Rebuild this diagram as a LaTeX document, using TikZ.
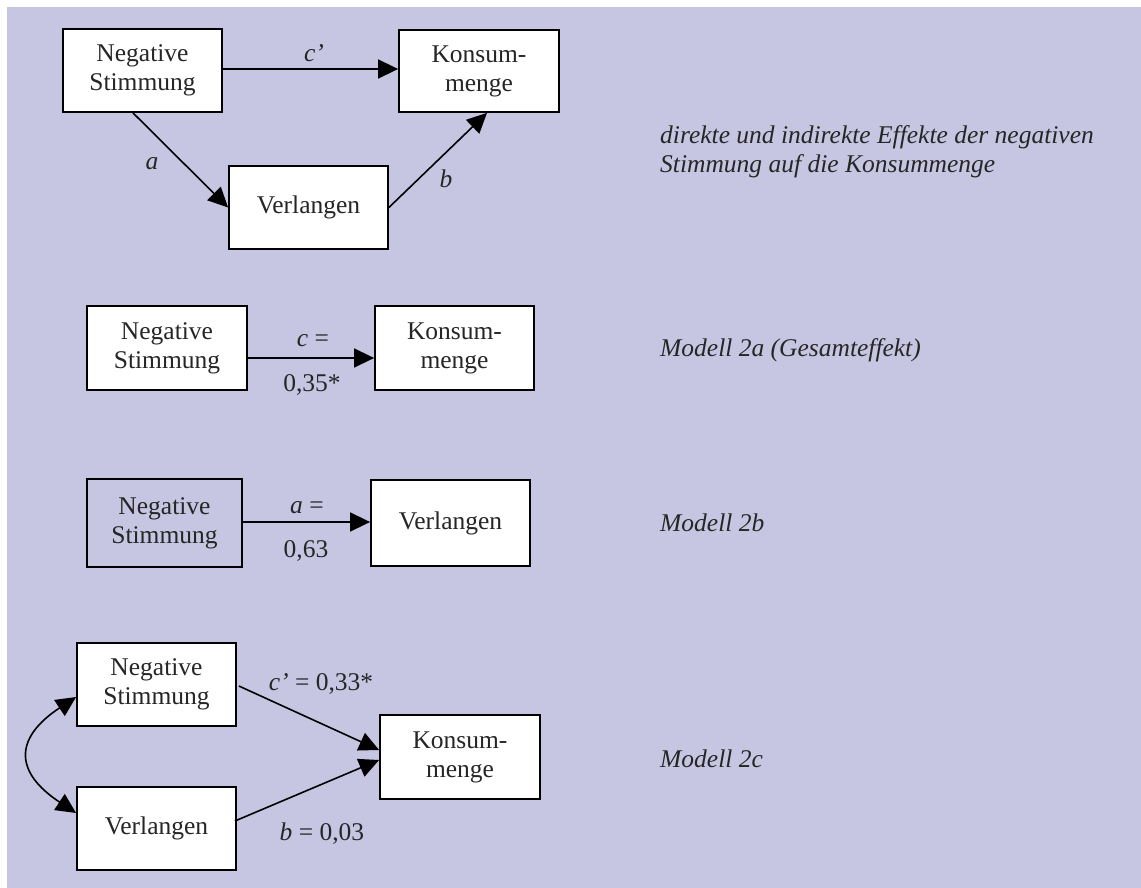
\documentclass[tikz,border=0pt]{standalone}
\usepackage{fontspec}
\setmainfont{Liberation Serif}
\usetikzlibrary{arrows.meta,calc}
\definecolor{lav}{RGB}{198,198,226}
\begin{document}
\begin{tikzpicture}[x=1pt,y=-1pt,
  box/.style={draw=black,line width=1.8pt,fill=white,inner sep=0pt,align=center,
    font=\fontsize{25.5}{29}\selectfont,text=black!85},
  conn/.style={line width=1.6pt,-{Triangle[length=20pt,width=19pt]}},
  lbl/.style={anchor=base,font=\fontsize{25.5}{29}\selectfont,text=black!85,inner sep=0pt},
  note/.style={anchor=base west,font=\fontsize{25.5}{29}\selectfont\itshape,text=black!85,inner sep=0pt}]
\useasboundingbox (0,0) rectangle (1141,888);
\fill[white] (0,0) rectangle (1141,888);
\fill[lav] (7,7) rectangle (1141,888);

% Model 1
\node[box,minimum width=159pt,minimum height=83pt] (ns1) at (142.5,70.5) {Negative\\Stimmung};
\node[box,minimum width=160pt,minimum height=82pt] (km1) at (479,71) {Konsum-\\menge};
\node[box,minimum width=159pt,minimum height=83pt] (v1) at (308.5,207.5) {Verlangen};
\draw[conn] ([yshift=1.5pt]ns1.east) -- ([yshift=1.5pt]ns1.east -| km1.west);
\draw[conn] ([xshift=-9.5pt]ns1.south) -- (v1.west);
\draw[conn] (v1.east) -- ([xshift=8pt]km1.south);
\node[lbl] (lc1) at (314,62) {\textit{c’}};
\node[lbl] (la1) at (152,170) {\textit{a}};
\node[lbl] (lb1) at (446,188) {\textit{b}};
\node[note] (t1) at (660,144) {direkte und indirekte Effekte der negativen};
\node[note] (t1b) at (660,173) {Stimmung auf die Konsummenge};

% Model 2a
\node[box,minimum width=160pt,minimum height=84pt] (ns2a) at (167,348) {Negative\\Stimmung};
\node[box,minimum width=159pt,minimum height=84pt] (km2a) at (454.5,348) {Konsum-\\menge};
\draw[conn] ([yshift=-10pt]ns2a.east) -- ([yshift=-10pt]ns2a.east -| km2a.west);
\node[lbl] (lc2a) at (313,346) {\textit{c} =};
\node[lbl] (lv2a) at (312,391) {0,35*};
\node[note] (t2a) at (660,356) {Modell 2a (Gesamteffekt)};

% Model 2b
\node[box,fill=lav,minimum width=155pt,minimum height=88pt] (ns2b) at (164.5,523) {Negative\\Stimmung};
\node[box,minimum width=159pt,minimum height=86pt] (v2b) at (450.5,523) {Verlangen};
\draw[conn] ([xshift=-2pt,yshift=1pt]ns2b.east) -- ([yshift=1pt]v2b.west);
\node[lbl] (la2b) at (307,513) {\textit{a} =};
\node[lbl] (lv2b) at (306,557) {0,63};
\node[note] (t2b) at (660,531) {Modell 2b};

% Model 2c
\node[box,minimum width=159pt,minimum height=83pt] (ns2c) at (156.5,684.5) {Negative\\Stimmung};
\node[box,minimum width=159pt,minimum height=83pt] (v2c) at (156.5,828.5) {Verlangen};
\node[box,minimum width=160pt,minimum height=84pt] (km2c) at (460,757) {Konsum-\\menge};
\draw[conn] ([xshift=2pt,yshift=-1.5pt]ns2c.east) -- ([yshift=7pt]km2c.west);
\draw[conn] ([xshift=-2pt,yshift=7.5pt]v2c.east) -- ([yshift=-3pt]km2c.west);
\draw[line width=1.6pt,{Triangle[length=20pt,width=19pt]}-{Triangle[length=20pt,width=19pt]}]
  ([yshift=-12.5pt]ns2c.west) .. controls (14,738) and (14,772) .. ([yshift=15.5pt]v2c.west);
\node[lbl] (lc2c) at (321,690) {\textit{c’} = 0,33*};
\node[lbl] (lb2c) at (322,840) {\textit{b} = 0,03};
\node[note] (t2c) at (660,767) {Modell 2c};
\end{tikzpicture}
\end{document}
